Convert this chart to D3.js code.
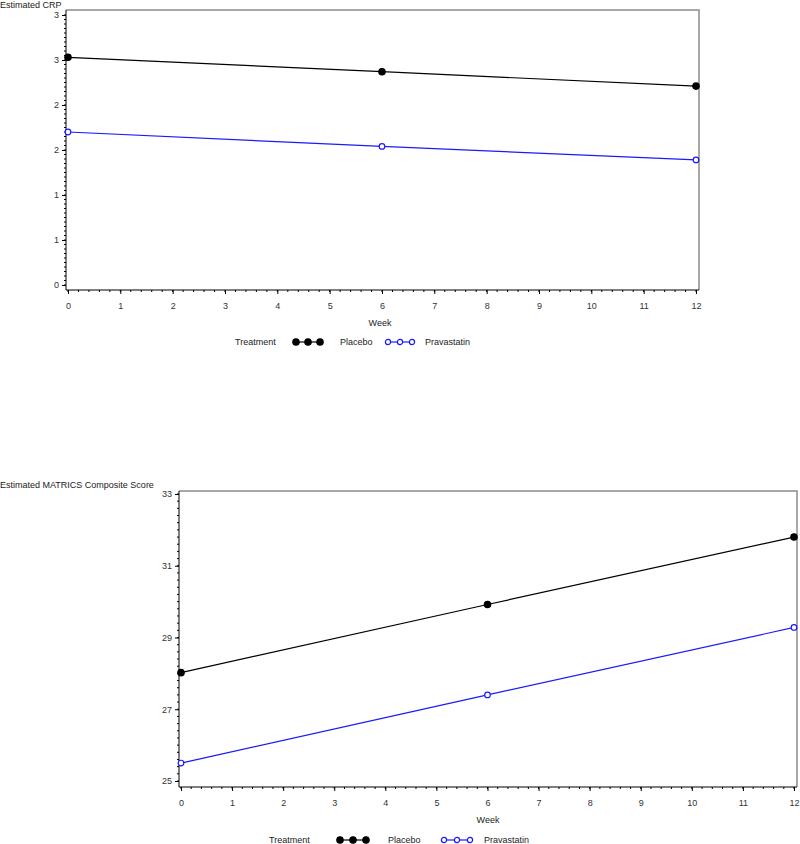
<!DOCTYPE html>
<html>
<head>
<meta charset="utf-8">
<script src="https://cdn.jsdelivr.net/npm/d3@7"></script>
<style>
  body { margin: 0; background: #fff; }
  svg { display: block; font-family: "Liberation Sans", Arial, sans-serif; }
</style>
</head>
<body>
<svg id="chart" width="800" height="844"></svg>
<script>
// Data
const weeks = [0, 6, 12];
const treatments = ['Placebo', 'Pravastatin'];

// Estimated CRP by week
const crpPlacebo = [2.53, 2.37, 2.21];
const crpPravastatin = [1.70, 1.54, 1.39];
const crpTicks = [0, 0.5, 1, 1.5, 2, 2.5, 3];

// Estimated MATRICS composite score by week
const matricsPlacebo = [28.02, 29.92, 31.80];
const matricsPravastatin = [25.50, 27.40, 29.28];
const matricsTicks = [25, 27, 29, 31, 33];

const weekTicks = d3.range(0, 13);

const svg = d3.select('#chart');

function drawPanel(opt) {
  const g = svg.append('g');

  const x = d3.scaleLinear().domain([0, 12]).range(opt.xRange);
  const y = d3.scaleLinear().domain(opt.yDomain).range(opt.yRange);

  // frame (top and right in gray)
  g.append('path')
    .attr('d', `M${opt.frame.left},${opt.frame.top}H${opt.frame.right}V${opt.frame.bottom}`)
    .attr('fill', 'none')
    .attr('stroke', '#8c8c8c')
    .attr('stroke-width', 1.5);

  // y axis
  const yAxis = g.append('g')
    .attr('transform', `translate(${opt.frame.left},0)`)
    .call(d3.axisLeft(y).tickValues(opt.yTicks).tickSize(4).tickPadding(3).tickFormat(opt.yFormat));
  yAxis.select('.domain').attr('d', `M0,${opt.frame.top}V${opt.frame.bottom}`).attr('stroke', '#000');

  const yMinor = d3.range(opt.yDomain[0], opt.yDomain[1] + 1e-9, opt.yMinorStep);
  g.append('g').selectAll('line')
    .data(yMinor)
    .enter().append('line')
    .attr('x1', opt.frame.left - 2)
    .attr('x2', opt.frame.left)
    .attr('y1', d => y(d))
    .attr('y2', d => y(d))
    .attr('stroke', '#000');

  // x axis
  const xAxis = g.append('g')
    .attr('transform', `translate(0,${opt.frame.bottom})`)
    .call(d3.axisBottom(x).tickValues(weekTicks).tickSize(4).tickPadding(9).tickFormat(d3.format('d')));
  xAxis.select('.domain').attr('d', `M${opt.frame.left},0H${opt.frame.right}`).attr('stroke', '#000');

  const xMinor = d3.range(0, 12.0001, 0.2);
  g.append('g').selectAll('line')
    .data(xMinor)
    .enter().append('line')
    .attr('x1', d => x(d))
    .attr('x2', d => x(d))
    .attr('y1', opt.frame.bottom)
    .attr('y2', opt.frame.bottom + 2)
    .attr('stroke', '#000');

  g.selectAll('.tick text').attr('font-size', 9).attr('fill', '#333');
  g.selectAll('.tick line').attr('stroke', '#000');

  // y axis title
  g.append('text')
    .attr('x', opt.titleX)
    .attr('y', opt.titleY)
    .attr('font-size', 9)
    .attr('fill', '#222')
    .text(opt.yTitle);

  // x axis title
  g.append('text')
    .attr('x', opt.weekX)
    .attr('y', opt.weekY)
    .attr('text-anchor', 'middle')
    .attr('font-size', 9)
    .attr('fill', '#222')
    .text('Week');

  const line = d3.line().x(d => x(d.week)).y(d => y(d.value));

  opt.series.forEach(s => {
    const pts = weeks.map((w, i) => ({ week: w, value: s.values[i] }));
    g.append('path')
      .datum(pts)
      .attr('d', line)
      .attr('fill', 'none')
      .attr('stroke', s.color)
      .attr('stroke-width', 1.2);
    g.append('g').selectAll('circle')
      .data(pts)
      .enter().append('circle')
      .attr('cx', d => x(d.week))
      .attr('cy', d => y(d.value))
      .attr('r', s.filled ? 3.2 : 2.8)
      .attr('fill', s.filled ? s.color : '#fff')
      .attr('stroke', s.color)
      .attr('stroke-width', 1.2);
  });

  // legend
  const lg = g.append('g').attr('transform', `translate(${opt.legendX},${opt.legendY})`);
  lg.append('text')
    .attr('x', 0).attr('y', 3)
    .attr('font-size', 9).attr('fill', '#222')
    .text('Treatment');
  let lx = opt.legendX0;
  opt.series.forEach((s, i) => {
    const gap = opt.markerGap;
    lg.append('line')
      .attr('x1', lx).attr('x2', lx + 2 * gap)
      .attr('y1', 0).attr('y2', 0)
      .attr('stroke', s.color).attr('stroke-width', 1.2);
    [0, gap, 2 * gap].forEach(dx => {
      lg.append('circle')
        .attr('cx', lx + dx).attr('cy', 0)
        .attr('r', s.filled ? 3.2 : 2.6)
        .attr('fill', s.filled ? s.color : '#fff')
        .attr('stroke', s.color).attr('stroke-width', 1.2);
    });
    lg.append('text')
      .attr('x', lx + opt.textOffsets[i]).attr('y', 3)
      .attr('font-size', 9).attr('fill', '#222')
      .text(s.name);
    lx += opt.legendStep;
  });
}

drawPanel({
  frame: { left: 66, top: 10, right: 699, bottom: 290 },
  xRange: [68, 696],
  yDomain: [0, 3],
  yRange: [285, 15],
  yTicks: crpTicks,
  yMinorStep: 0.05,
  yFormat: d => String(Math.round(d)),
  yTitle: 'Estimated CRP',
  titleX: 0, titleY: 8,
  weekX: 380, weekY: 326,
  legendX: 235, legendY: 342, legendX0: 61, legendStep: 92,
  markerGap: 12, textOffsets: [44, 37],
  series: [
    { name: treatments[0], values: crpPlacebo, color: '#000', filled: true },
    { name: treatments[1], values: crpPravastatin, color: '#1a1aff', filled: false }
  ]
});

drawPanel({
  frame: { left: 179, top: 491, right: 797, bottom: 787 },
  xRange: [181, 794],
  yDomain: [25, 33],
  yRange: [781, 494],
  yTicks: matricsTicks,
  yMinorStep: 0.2,
  yFormat: d3.format('d'),
  yTitle: 'Estimated MATRICS Composite Score',
  titleX: 0, titleY: 488,
  weekX: 488, weekY: 823,
  legendX: 269, legendY: 840, legendX0: 71, legendStep: 104,
  markerGap: 13, textOffsets: [48, 40],
  series: [
    { name: treatments[0], values: matricsPlacebo, color: '#000', filled: true },
    { name: treatments[1], values: matricsPravastatin, color: '#1a1aff', filled: false }
  ]
});
</script>
</body>
</html>
